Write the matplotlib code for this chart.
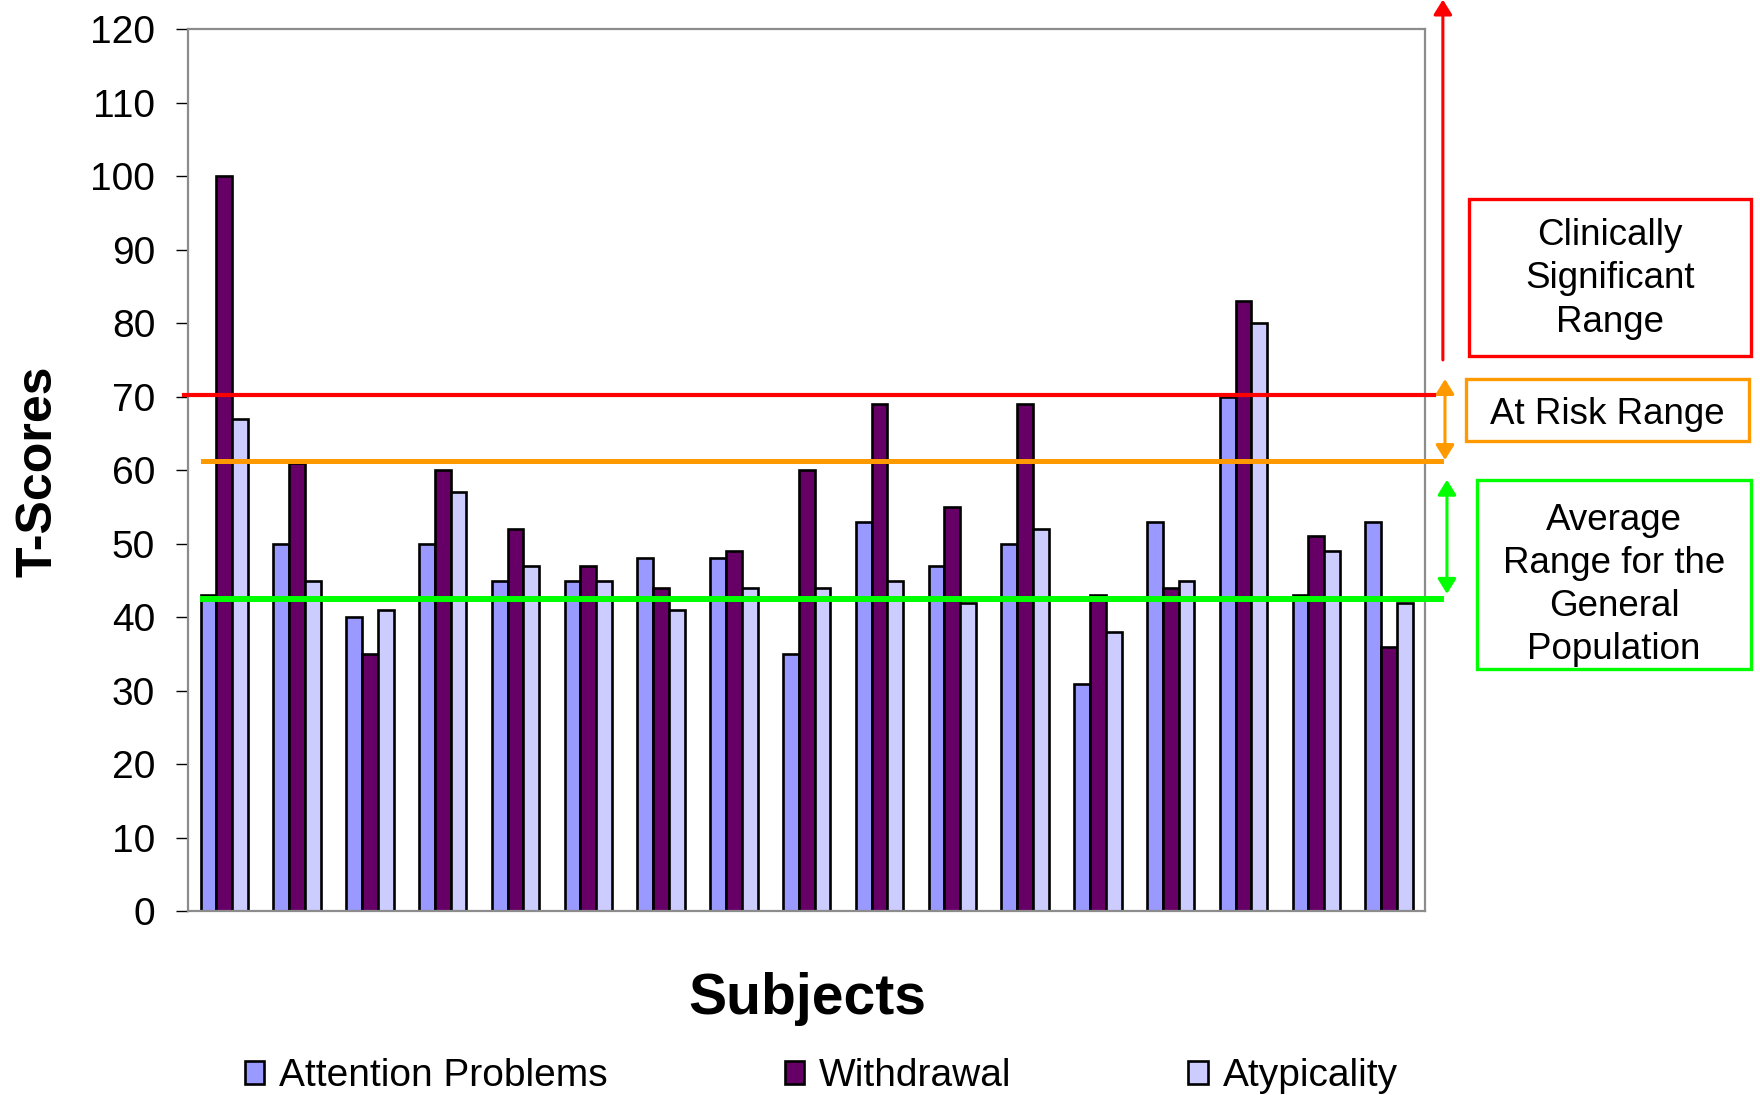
import matplotlib
matplotlib.use("Agg")
import matplotlib.pyplot as plt
import matplotlib.transforms as mtransforms
from matplotlib.patches import FancyArrowPatch, Rectangle
import numpy as np

plt.rcParams["font.family"] = ["Liberation Sans", "DejaVu Sans"]

# T-scores per subject for the three scales
series_names = ["Attention Problems", "Withdrawal", "Atypicality"]
attention = [43, 50, 40, 50, 45, 45, 48, 48, 35, 53, 47, 50, 31, 53, 70, 43, 53]
withdrawal = [100, 61, 35, 60, 52, 47, 44, 49, 60, 69, 55, 69, 43, 44, 83, 51, 36]
atypicality = [67, 45, 41, 57, 47, 45, 41, 44, 44, 45, 42, 52, 38, 45, 80, 49, 42]
colors = ["#9999FF", "#660066", "#CCCCFF"]

# range cut-offs
clinical_cut = 70.2
at_risk_cut = 61.2
average_cut = 42.5

yticks = list(range(0, 121, 10))

fig = plt.figure(figsize=(17.6, 10.95), dpi=100)
ax = fig.add_axes([0.1068, 0.1676, 0.7031, 0.8059])

n = len(attention)
x = np.arange(n)
bw = 0.217
for i, (vals, name, col) in enumerate(zip([attention, withdrawal, atypicality],
                                          series_names, colors)):
    ax.bar(x + (i - 1) * bw, vals, width=bw, color=col, edgecolor="black",
           linewidth=1.9, label=name, zorder=2)

ax.set_xlim(-0.5, n - 0.5)
ax.set_ylim(0, 120)
ax.set_yticks(yticks)
ax.set_xticks([])
ax.tick_params(axis="y", direction="out", length=8.6, width=1.0,
               color="black", labelsize=28, pad=15)
for sp in ax.spines.values():
    sp.set_color("#8c8c8c")
    sp.set_linewidth(1.6)

# threshold lines (x in axes fraction, y in data units)
trans = mtransforms.blended_transform_factory(ax.transAxes, ax.transData)
ax.plot([-0.003, 1.0069], [clinical_cut] * 2, color="#FF0000", lw=3.0,
        transform=trans, clip_on=False, zorder=3)
ax.plot([0.0119, 1.0125], [at_risk_cut] * 2, color="#FF9900", lw=3.6,
        transform=trans, clip_on=False, zorder=3)
ax.plot([0.0119, 1.0125], [average_cut] * 2, color="#00FF00", lw=4.3,
        transform=trans, clip_on=False, zorder=3)

# range arrows on the right
def arrow(x0, y0, y1, col, style):
    a = FancyArrowPatch((x0, y0), (x0, y1), transform=trans,
                        arrowstyle=style, mutation_scale=20, color=col,
                        lw=2.2, shrinkA=0, shrinkB=0, clip_on=False)
    ax.add_artist(a)

arrow(1.0141, 75.0, 124.0, "#FF0000", "-|>,head_length=0.45,head_width=0.28")
arrow(1.0158, at_risk_cut + 0.2, 72.4, "#FF9900",
      "<|-|>,head_length=0.45,head_width=0.28")
arrow(1.0174, 43.2, 58.7, "#00FF00", "<|-|>,head_length=0.45,head_width=0.28")

# labelled boxes for each range (figure pixels -> fractions)
W, H = 1760.0, 1095.0
def box(x0, y0, x1, y1, col, text, ty):
    r = Rectangle((x0 / W, 1 - y1 / H), (x1 - x0) / W, (y1 - y0) / H,
                  transform=fig.transFigure, fill=False, edgecolor=col,
                  linewidth=2.4)
    fig.add_artist(r)
    fig.text((x0 + x1) / 2 / W, 1 - ty / H, text, ha="center", va="center",
             fontsize=26.5, linespacing=1.3)

box(1469, 199, 1751, 356, "#FF0000", "Clinically\nSignificant\nRange", 279)
box(1466, 379, 1749, 441, "#FF9900", "At Risk Range", 414)
box(1477, 480, 1751, 669, "#00FF00",
    "Average\nRange for the\nGeneral\nPopulation", 585)

fig.text(38 / W, 1 - 471 / H, "T-Scores", rotation=90, ha="center",
         va="center", fontsize=36, fontweight="bold")
fig.text(807 / W, 1 - 999 / H, "Subjects", ha="center", va="center",
         fontsize=41, fontweight="bold")

handles, labels = ax.get_legend_handles_labels()
fig.legend(handles, labels, loc="center", bbox_to_anchor=(0.4666, 0.017),
           ncol=3, frameon=False, prop={"size": 28},
           handlelength=0.51, handleheight=0.51, handletextpad=0.375,
           columnspacing=4.55, borderaxespad=0)

fig.savefig("out.png", dpi=100)
